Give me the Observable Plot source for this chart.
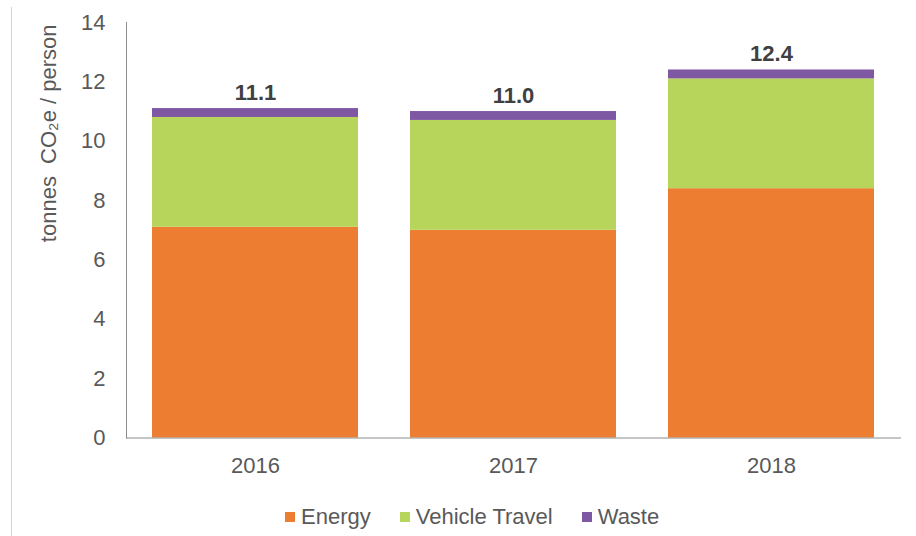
<!DOCTYPE html>
<html>
<head>
<meta charset="utf-8">
<script src="https://cdn.jsdelivr.net/npm/d3@7"></script>
<script src="https://cdn.jsdelivr.net/npm/@observablehq/plot@0.6"></script>
<style>
  html, body { margin: 0; padding: 0; background: #fff; }
  body { width: 916px; height: 536px; position: relative; overflow: hidden; font-family: "Liberation Sans", Arial, sans-serif; }
  #edge { position: absolute; left: 11px; top: 7px; bottom: 0; width: 1px; background: #d4d4d4; }
  #legend { position: absolute; left: 285px; top: 505px; display: flex; align-items: center; font-size: 22px; color: #595959; line-height: 24px; }
  #legend .item { display: flex; align-items: center; margin-right: 29px; }
  #legend .sw { width: 10px; height: 10px; margin-right: 6px; }
</style>
</head>
<body>
<div id="edge"></div>
<div id="chart"></div>
<div id="legend"></div>
<script>
const years = ["2016", "2017", "2018"];
const series = ["Energy", "Vehicle Travel", "Waste"];
const energy = [7.1, 7.0, 8.4];
const vehicle = [3.7, 3.7, 3.7];
const waste = [0.3, 0.3, 0.3];
const totalLabels = ["11.1", "11.0", "12.4"];
const yTicks = [0, 2, 4, 6, 8, 10, 12, 14];
const colors = ["#ED7D31", "#B7D55A", "#7F58A3"];
const yTitle = "tonnes  CO₂e / person";

const seriesValues = [energy, vehicle, waste];
const rows = [];
series.forEach((s, si) => years.forEach((y, yi) => rows.push({year: y, series: s, value: seriesValues[si][yi]})));
const totals = years.map((y, i) => ({year: y, total: energy[i] + vehicle[i] + waste[i], label: totalLabels[i]}));

const chart = Plot.plot({
  width: 916,
  height: 492,
  marginLeft: 126,
  marginRight: 15,
  marginTop: 22,
  marginBottom: 54.5,
  style: {fontSize: "22px", fontFamily: "Liberation Sans, Arial, sans-serif", color: "#595959", background: "transparent"},
  x: {type: "band", domain: years, paddingInner: 0.2, paddingOuter: 0.1, label: null},
  y: {domain: [0, 14], label: null},
  color: {domain: series, range: colors},
  marks: [
    Plot.barY(rows, {x: "year", y: "value", fill: "series"}),
    Plot.frame({anchor: "left", stroke: "#8c8c8c"}),
    Plot.ruleY([0], {stroke: "#8c8c8c"}),
    Plot.axisX({tickSize: 0, tickPadding: 19, label: null, fill: "#595959", fontSize: 22}),
    Plot.axisY({ticks: yTicks, tickSize: 0, tickPadding: 21, label: null, fill: "#595959", fontSize: 22}),
    Plot.text(totals, {x: "year", y: "total", text: "label", fontWeight: "bold", fontSize: 22, fill: "#404040", lineAnchor: "bottom", dy: -9}),
    Plot.text([yTitle], {frameAnchor: "top-left", rotate: -90, textAnchor: "end", dx: -86, dy: 2, fill: "#595959", fontSize: 22})
  ]
});
document.getElementById("chart").appendChild(chart);

const legend = document.getElementById("legend");
series.forEach((s, i) => {
  const item = document.createElement("div");
  item.className = "item";
  const sw = document.createElement("span");
  sw.className = "sw";
  sw.style.background = colors[i];
  const t = document.createElement("span");
  t.textContent = s;
  item.appendChild(sw);
  item.appendChild(t);
  legend.appendChild(item);
});
</script>
</body>
</html>
